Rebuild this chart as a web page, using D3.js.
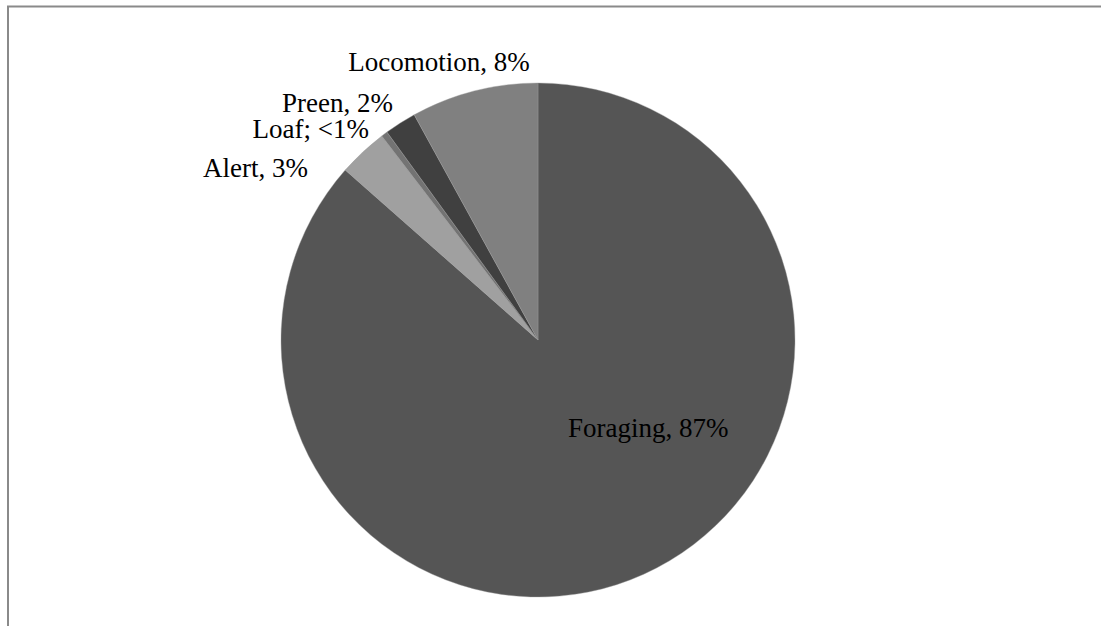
<!DOCTYPE html>
<html>
<head>
<meta charset="utf-8">
<script src="https://cdn.jsdelivr.net/npm/d3@7"></script>
<style>
  body { margin: 0; background: #fff; }
  svg { display: block; }
</style>
</head>
<body>
<div id="grafPie"></div>
<script>
// datos
categorias = ['Foraging', 'Alert', 'Loaf', 'Preen', 'Locomotion']
valores    = [86.5, 3.1, 0.4, 2.0, 8.0]
etiquetas  = ['Foraging, 87%', 'Alert, 3%', 'Loaf; <1%', 'Preen, 2%', 'Locomotion, 8%']
colores    = ['#555555', '#a0a0a0', '#737373', '#404040', '#808080']

// configuracion
ANCHO = 1101
ALTO  = 626
CX = 538
CY = 340
RADIO = 257
FUENTE = "'Liberation Serif', 'DejaVu Serif', serif"

svg = d3.select('#grafPie').append('svg')
  .attr('width', ANCHO)
  .attr('height', ALTO)

// marco del area del grafico
svg.append('rect')
  .attr('x', 8).attr('y', 6.5)
  .attr('width', ANCHO + 20).attr('height', ALTO + 20)
  .attr('fill', 'none')
  .attr('stroke', '#8a8a8a')
  .attr('stroke-width', 2)

datos = categorias.map((c, i) => ({ nombre: c, valor: valores[i], etiqueta: etiquetas[i], color: colores[i] }))

pie = d3.pie().sort(null).value(d => d.valor)
arco = d3.arc().innerRadius(0).outerRadius(RADIO)

g = svg.append('g').attr('transform', `translate(${CX},${CY})`)

g.selectAll('path')
  .data(pie(datos))
  .enter()
  .append('path')
  .attr('d', arco)
  .attr('fill', d => d.data.color)
  .attr('stroke', '#9a9a9a')
  .attr('stroke-width', 0.4)

// posicion de las etiquetas (relativa al centro), estilo "best fit"
posEtiquetas = {
  'Foraging':   { dx: 30,   dy: 97,   anchor: 'start' },
  'Alert':      { dx: -230, dy: -163, anchor: 'end' },
  'Loaf':       { dx: -169, dy: -202, anchor: 'end' },
  'Preen':      { dx: -145, dy: -228, anchor: 'end' },
  'Locomotion': { dx: -99,  dy: -269, anchor: 'middle' }
}

g.selectAll('text')
  .data(datos)
  .enter()
  .append('text')
  .attr('x', d => posEtiquetas[d.nombre].dx)
  .attr('y', d => posEtiquetas[d.nombre].dy)
  .attr('text-anchor', d => posEtiquetas[d.nombre].anchor)
  .attr('font-family', FUENTE)
  .attr('font-size', 27)
  .attr('fill', '#000')
  .text(d => d.etiqueta)
</script>
</body>
</html>
